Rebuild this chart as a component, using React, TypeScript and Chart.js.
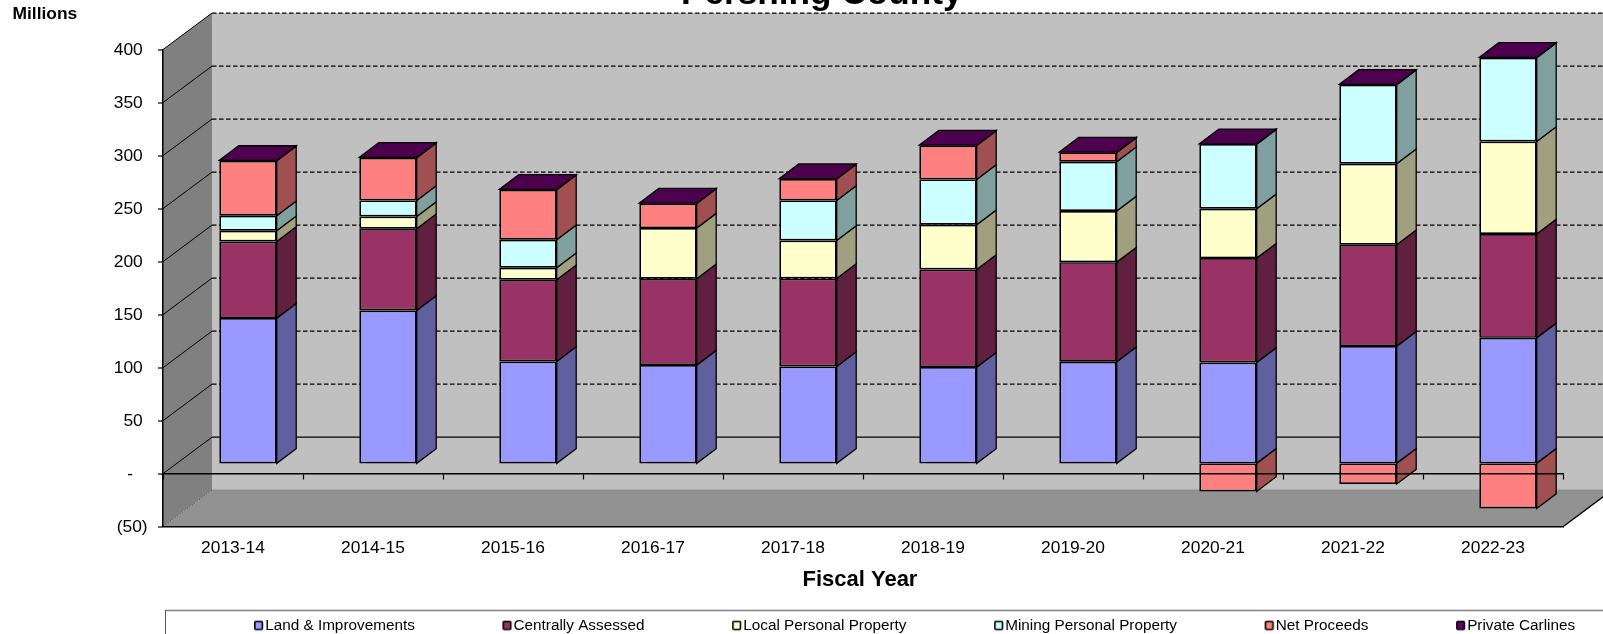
import React, { useEffect, useRef } from "react";
import { Chart, registerables } from "chart.js";

Chart.register(...registerables);

const fiscalYears = ["2013-14","2014-15","2015-16","2016-17","2017-18","2018-19","2019-20","2020-21","2021-22","2022-23"];
const landImprovements = [137,144.2,96.1,92.7,91.4,90.8,95.8,95.1,110.6,118.4];
const centrallyAssessed = [72.3,77.1,77.1,81.4,83,92.1,94,98.5,95.6,97.9];
const localPersonal = [10.1,11.5,11.3,47.8,35.8,42.1,48.2,46.5,76.4,87.3];
const miningPersonal = [14.1,15.2,26.4,0,37.8,42.8,46.5,61,74.5,79];
const netProceeds = [51.9,40.3,47.2,23.2,20.2,32,8.8,-26.5,-19.5,-42.6];
const privateCarlines = [0.3,0.3,0.3,0.3,0.3,0.3,0.3,0.3,0.3,0.3];

const seriesNames = ["Land & Improvements","Centrally Assessed","Local Personal Property","Mining Personal Property","Net Proceeds","Private Carlines"];
const seriesValues = [landImprovements,centrallyAssessed,localPersonal,miningPersonal,netProceeds,privateCarlines];
const frontColors = ["#9999FF","#993366","#FFFFCC","#CCFFFF","#FF8080","#660066"];
const sideColors = ["#6060A0","#602040","#A0A080","#80A0A0","#A05050","#400040"];
const topColor = "#4D004D";

const FONT = "'Liberation Sans', Arial, sans-serif";
const WALL_DX = 49, WALL_DY = 36.5;
const BAR_SHIFT_X = 15, BAR_SHIFT_Y = 10.3;
const BAR_DX = 19.5, BAR_DY = 14.7;

function poly(ctx: CanvasRenderingContext2D, pts: number[][], fill?: string, stroke?: string, lw = 1) {
  ctx.beginPath();
  pts.forEach((p, i) => (i ? ctx.lineTo(p[0], p[1]) : ctx.moveTo(p[0], p[1])));
  ctx.closePath();
  if (fill) { ctx.fillStyle = fill; ctx.fill(); }
  if (stroke) { ctx.strokeStyle = stroke; ctx.lineWidth = lw; ctx.stroke(); }
}
function seg(ctx: CanvasRenderingContext2D, x1: number, y1: number, x2: number, y2: number, color: string, lw: number, dash: number[] = []) {
  ctx.save();
  ctx.beginPath();
  ctx.setLineDash(dash);
  ctx.moveTo(x1, y1);
  ctx.lineTo(x2, y2);
  ctx.strokeStyle = color;
  ctx.lineWidth = lw;
  ctx.stroke();
  ctx.restore();
}
function marker(color: string) {
  const c = document.createElement("canvas");
  c.width = 20; c.height = 20;
  const g = c.getContext("2d")!;
  g.fillStyle = color;
  g.strokeStyle = "#000";
  g.lineWidth = 1.6;
  g.beginPath();
  g.roundRect(7.8, 5.8, 7.6, 8, 1);
  g.fill();
  g.stroke();
  return c;
}

const box3d = {
  id: "box3d",
  afterLayout(chart: any) {
    chart.titleBlock.left += 40.2;
    chart.titleBlock.right += 40.2;
    const p = chart.legend.options.labels.padding;
    chart.legend.left = 256.5 - p;
    chart.legend.right = 2000;
    chart.legend.top = 618 - p;
    chart.legend.bottom = 634;
  },
  beforeDraw(chart: any) {
    const { ctx, chartArea: a, scales } = chart;
    const y = scales.y;
    const yMin = y.getPixelForValue(-50);
    const yMax = y.getPixelForValue(400);
    ctx.save();
    poly(ctx, [[a.left + WALL_DX, yMax - WALL_DY], [a.right + WALL_DX, yMax - WALL_DY], [a.right + WALL_DX, yMin - WALL_DY], [a.left + WALL_DX, yMin - WALL_DY]], "#C0C0C0");
    poly(ctx, [[a.left, yMax], [a.left + WALL_DX, yMax - WALL_DY], [a.left + WALL_DX, yMin - WALL_DY], [a.left, yMin]], "#808080");
    poly(ctx, [[a.left, yMin], [a.right, yMin], [a.right + WALL_DX, yMin - WALL_DY], [a.left + WALL_DX, yMin - WALL_DY]], "#929292");
    seg(ctx, a.left + WALL_DX, yMin - WALL_DY, a.right + WALL_DX, yMin - WALL_DY, "#808080", 1);
    seg(ctx, a.right, yMin, a.right + WALL_DX, yMin - WALL_DY, "#000", 1.3);
    y.ticks.forEach((t: any) => {
      const py = y.getPixelForValue(t.value);
      if (t.value < 0) {
        seg(ctx, a.left, py, a.left + WALL_DX, py - WALL_DY, "#333", 0.8, [1, 2]);
        return;
      }
      seg(ctx, a.left, py, a.left + WALL_DX, py - WALL_DY, "#000", 1);
      if (t.value === 0) seg(ctx, a.left + WALL_DX, py - WALL_DY, a.right + WALL_DX, py - WALL_DY, "#000", 1.2);
      else seg(ctx, a.left + WALL_DX, py - WALL_DY, a.right + WALL_DX, py - WALL_DY, "#000", 1.2, [4.5, 2.5]);
    });
    seg(ctx, 165.5, 610.5, 1603, 610.5, "#808080", 1.5);
    seg(ctx, 165.5, 610, 165.5, 634, "#555", 1);
    ctx.fillStyle = "#000";
    ctx.font = `bold 17.4px ${FONT}`;
    ctx.textAlign = "left";
    ctx.textBaseline = "middle";
    ctx.fillText("Millions", 12.5, 14.5);
    ctx.restore();
  },
  beforeDatasetsDraw(chart: any) {
    const { ctx } = chart;
    ctx.save();
    ctx.translate(BAR_SHIFT_X, -BAR_SHIFT_Y);
    chart.data.datasets.forEach((ds: any, di: number) => {
      chart.getDatasetMeta(di).data.forEach((b: any, i: number) => {
        if (!ds.data[i]) return;
        const r = b.x + b.width / 2;
        const l = b.x - b.width / 2;
        const t = Math.min(b.y, b.base);
        const bt = Math.max(b.y, b.base);
        poly(ctx, [[r, t], [r + BAR_DX, t - BAR_DY], [r + BAR_DX, bt - BAR_DY], [r, bt]], sideColors[di], "#000", 1.3);
        if (di === chart.data.datasets.length - 1) {
          poly(ctx, [[l, t], [r, t], [r + BAR_DX, t - BAR_DY], [l + BAR_DX, t - BAR_DY]], topColor, "#000", 1.3);
        }
      });
    });
  },
  afterDatasetsDraw(chart: any) {
    chart.ctx.restore();
  },
};

export default function App() {
  const ref = useRef<HTMLCanvasElement>(null);
  useEffect(() => {
    const markers = frontColors.map(marker);
    const chart = new Chart(ref.current!, {
      type: "bar",
      plugins: [box3d],
      data: {
        labels: fiscalYears,
        datasets: seriesNames.map((name, i) => ({
          label: name,
          data: seriesValues[i],
          backgroundColor: frontColors[i],
          borderColor: "#000",
          borderWidth: 1.7,
          borderSkipped: false,
          barPercentage: 0.41,
          categoryPercentage: 1,
          clip: false,
        })),
      },
      options: {
        responsive: false,
        animation: false,
        layout: { padding: { left: 0, right: 40, top: 0, bottom: 0 } },
        scales: {
          x: {
            stacked: true,
            position: "bottom",
            offset: true,
            grid: { display: false, drawTicks: false },
            border: { display: true, color: "#000", width: 1.5 },
            ticks: { color: "#000", font: { family: FONT, size: 17.4 }, padding: 11.5, maxRotation: 0, autoSkip: false },
            title: { display: true, text: "Fiscal Year ", color: "#000", font: { family: FONT, size: 22, weight: "bold" }, padding: { top: 0, bottom: 16.8 } },
            afterFit: (s: any) => { s.height = 83.3; },
          },
          zero: {
            axis: "x",
            type: "category",
            position: { y: 0 },
            offset: true,
            grid: { offset: true, drawOnChartArea: false, color: "#000", tickLength: 5, tickWidth: 1.2, z: 1 },
            border: { display: true, color: "#000", width: 1.5, z: 1 },
            ticks: { display: false },
          },
          y: {
            stacked: true,
            min: -50,
            max: 400,
            grid: { drawOnChartArea: false, color: "#000", lineWidth: 0, tickLength: 5, tickWidth: 1.2 },
            border: { display: true, color: "#000", width: 1.5 },
            ticks: {
              stepSize: 50,
              color: "#000",
              padding: 10.4,
              labelOffset: 1,
              font: { family: FONT, size: 17.4 },
              callback: (v: any) => (v < 0 ? `(${Math.abs(v)})` : v === 0 ? "-   " : `${v} `),
            },
            afterFit: (s: any) => { s.width = 163; },
          },
        },
        plugins: {
          tooltip: { enabled: false },
          title: {
            display: true,
            text: "Pershing County",
            color: "#000",
            font: { family: FONT, size: 35.2, weight: "bold" },
            padding: { top: -27, bottom: 34.3 },
          },
          legend: {
            position: "bottom",
            align: "start",
            maxHeight: 24,
            labels: {
              color: "#000",
              font: { family: FONT, size: 15.3 },
              usePointStyle: true,
              boxWidth: 1,
              padding: 90.1,
              generateLabels: (c: any) =>
                Chart.defaults.plugins.legend.labels.generateLabels(c).map((it: any, i: number) => ({ ...it, pointStyle: markers[i] })),
            },
          },
        },
      } as any,
    });
    return () => chart.destroy();
  }, []);
  return (
    <div style={{ position: "fixed", left: 0, top: 0, width: 1603, height: 634, overflow: "hidden", background: "#fff" }}>
      <canvas ref={ref} width={1603} height={634} style={{ display: "block" }} />
    </div>
  );
}
